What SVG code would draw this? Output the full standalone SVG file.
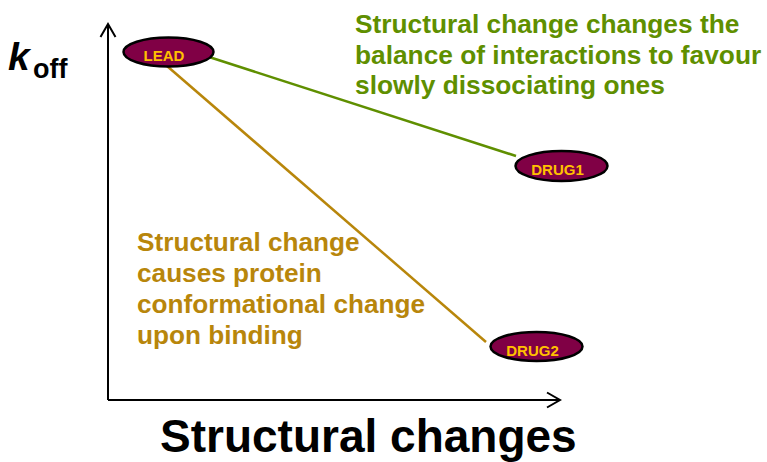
<svg xmlns="http://www.w3.org/2000/svg" width="767" height="462" viewBox="0 0 767 462">
<style>
text{font-family:"Liberation Sans",Arial,sans-serif;font-weight:bold}
.node ellipse{fill:#800045;stroke:#000;stroke-width:2.5}
.node text{fill:#FFC000;font-size:15px;text-anchor:middle}
.axis{stroke:#000;stroke-width:2;fill:none}
.green{fill:#5F8F00;font-size:26.3px}
.orange{fill:#B8860B;font-size:26.2px}
</style>
<rect width="767" height="462" fill="#fff"/>
<g id="axes">
<path class="axis" d="M108 400 V24 M100.5 37 L108 24 L115.5 37"/>
<path class="axis" d="M108 400 H560 M547 392.5 L560 400 L547 407.5"/>
</g>
<g id="connectors">
<line x1="206" y1="56" x2="516" y2="156" stroke="#5F8F00" stroke-width="2.5"/>
<line x1="167" y1="66" x2="486" y2="342" stroke="#B8860B" stroke-width="2.5"/>
</g>
<g id="lead" class="node">
<ellipse cx="168.5" cy="52" rx="45" ry="14.5"/>
<text x="164" y="61">LEAD</text>
</g>
<g id="drug1" class="node">
<ellipse cx="561.5" cy="166" rx="46" ry="15"/>
<text x="557.5" y="175">DRUG1</text>
</g>
<g id="drug2" class="node">
<ellipse cx="536.5" cy="346.5" rx="46" ry="14.5"/>
<text x="532.5" y="356">DRUG2</text>
</g>
<g id="labels">
<text x="8" y="70" font-size="39" font-style="italic">k</text>
<text x="33" y="78" font-size="27">off</text>
<text x="355" y="33" class="green">Structural change changes the</text>
<text x="355" y="63.5" class="green">balance of interactions to favour</text>
<text x="355" y="94" class="green">slowly dissociating ones</text>
<text x="137" y="251" class="orange">Structural change</text>
<text x="137" y="282" class="orange">causes protein</text>
<text x="137" y="312.5" class="orange">conformational change</text>
<text x="137" y="343.5" class="orange">upon binding</text>
<text x="160" y="452" font-size="46">Structural changes</text>
</g>
</svg>
